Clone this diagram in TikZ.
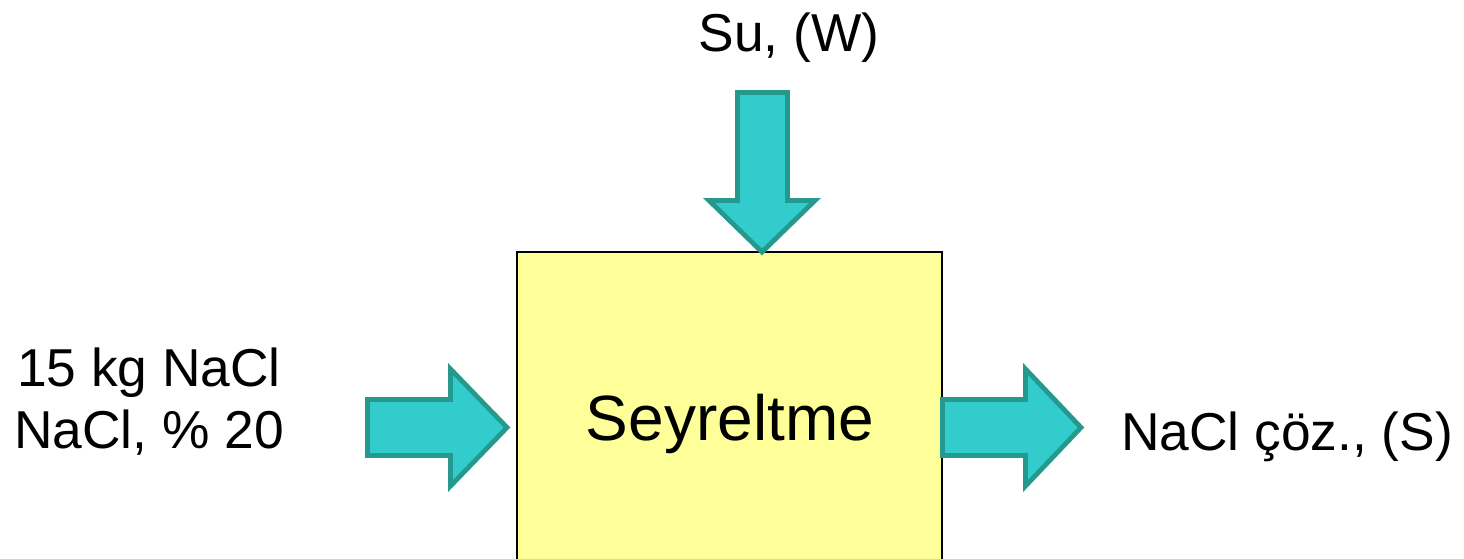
\documentclass[tikz,border=0pt]{standalone}
\usepackage{fontspec}
\setmainfont{Liberation Sans}
\definecolor{tealfill}{HTML}{33CCCC}
\definecolor{tealedge}{HTML}{26998F}
\definecolor{boxfill}{HTML}{FFFF99}
\begin{document}
\begin{tikzpicture}[x=0.75pt,y=-0.75pt,
  blockarrow/.style={fill=tealfill,draw=tealedge,line width=3.6pt,line join=miter},
  label/.style={inner sep=0pt,anchor=base,font=\fontsize{40}{48}\selectfont},
  unitbox/.style={fill=boxfill,draw=black,line width=1.4pt}]
\useasboundingbox (0,0) rectangle (1464,558);
\clip (0,0) rectangle (1464,558);
\fill[white] (0,0) rectangle (1464,558);

% process unit (runs past the lower edge)
\draw[unitbox] (517,252) rectangle (942,620);
\node[label,font=\fontsize{48}{56}\selectfont] (unit) at (730,440) {Seyreltme};

% water feed from above
\draw[blockarrow] (737.5,92.5) -- (787.5,92.5) -- (787.5,200.5) -- (815,200.5)
  -- (762,252) -- (709,200.5) -- (737.5,200.5) -- cycle;
\node[label] (water) at (789,51) {Su, (W)};

% salt feed from the left
\draw[blockarrow] (367.5,399.5) -- (450.5,399.5) -- (450.5,369) -- (507,427.5)
  -- (450.5,486) -- (450.5,455.5) -- (367.5,455.5) -- cycle;
\node[label] (feed1) at (149,386) {15 kg NaCl};
\node[label] (feed2) at (149,448) {NaCl, \% 20};

% product stream to the right
\draw[blockarrow] (942.5,399.5) -- (1025.5,399.5) -- (1025.5,369) -- (1081,427.5)
  -- (1025.5,486) -- (1025.5,455.5) -- (942.5,455.5) -- cycle;
\node[label] (product) at (1287,450) {NaCl çöz., (S)};
\end{tikzpicture}
\end{document}
